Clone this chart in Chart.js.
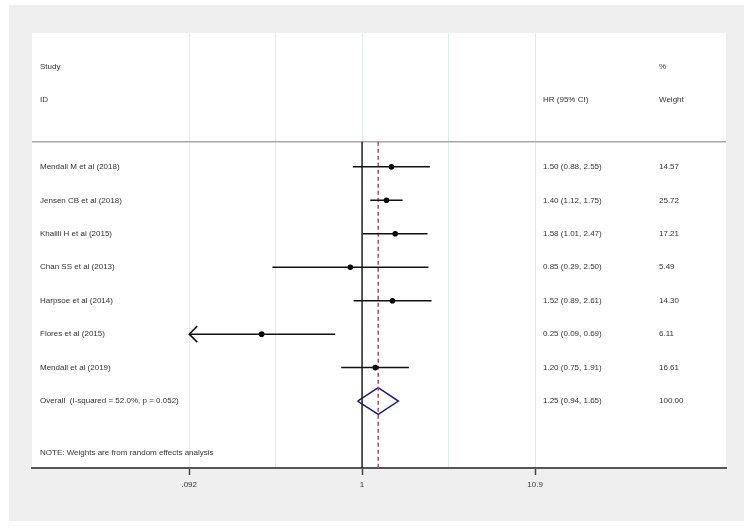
<!DOCTYPE html>
<html>
<head>
<meta charset="utf-8">
<script src="https://cdn.jsdelivr.net/npm/chart.js@4/dist/chart.umd.min.js"></script>
<style>
    body { margin: 0; background: #fff; }
    #wrap { width: 752px; height: 530px; }
</style>
</head>
<body>
<div id="wrap"><canvas id="forest" width="752" height="530"></canvas></div>
<script>
'use strict'

// study rows, top to bottom
const studies = ['Mendall M et al (2018)', 'Jensen CB et al (2018)', 'Khalili H et al (2015)',
    'Chan SS et al (2013)', 'Harpsoe et al (2014)', 'Flores et al (2015)', 'Mendall et al (2019)'];
const hr = [1.50, 1.40, 1.58, 0.85, 1.52, 0.25, 1.20];
const lower = [0.88, 1.12, 1.01, 0.29, 0.89, 0.09, 0.75];
const upper = [2.55, 1.75, 2.47, 2.50, 2.61, 0.69, 1.91];
const weights = [14.57, 25.72, 17.21, 5.49, 14.30, 6.11, 16.61];

const overallLabel = 'Overall  (I-squared = 52.0%, p = 0.052)';
const overallHR = 1.25;
const overallLower = 0.94;
const overallUpper = 1.65;
const overallWeight = 100.00;

const noteText = 'NOTE: Weights are from random effects analysis';

const tickValues = [0.092, 1, 10.9];
const tickLabels = ['.092', '1', '10.9'];

// layout in row units (row 1 = first study)
const headerRow = 0.25;
const overallRow = studies.length + 1;
const noteRow = 9.55;
const yTop = -3;
const yBottom = 10;
const diamondHalf = 0.4;

const textFont = '8px "Liberation Sans", Arial, sans-serif';
const textColor = '#333';

// grid lines at each tick and halfway between them (log scale)
let gridTicks = [];
tickValues.forEach((v, i) => {
    gridTicks.push(v);
    if (i < tickValues.length - 1) gridTicks.push(Math.sqrt(v * tickValues[i + 1]));
});

const fmt = v => v.toFixed(2);
const xMin = tickValues[0];
const xMax = tickValues[tickValues.length - 1];

let datasets = [];

// confidence intervals
studies.forEach((s, i) => {
    datasets.push({
        data: [{ x: Math.max(lower[i], xMin), y: i + 1 }, { x: Math.min(upper[i], xMax), y: i + 1 }],
        showLine: true,
        pointRadius: 0,
        borderColor: '#111',
        borderWidth: 1.5,
    });
});

// point estimates
datasets.push({
    data: hr.map((v, i) => ({ x: v, y: i + 1 })),
    pointStyle: 'circle',
    pointRadius: 2.8,
    backgroundColor: '#000',
    borderColor: '#000',
    borderWidth: 0,
});

// no-effect line
datasets.push({
    data: [{ x: 1, y: headerRow }, { x: 1, y: yBottom }],
    showLine: true,
    pointRadius: 0,
    borderColor: '#222',
    borderWidth: 1.5,
});

// overall effect line
datasets.push({
    data: [{ x: overallHR, y: headerRow }, { x: overallHR, y: yBottom }],
    showLine: true,
    pointRadius: 0,
    borderColor: '#a8505c',
    borderWidth: 1.5,
    borderDash: [4, 3],
});

// overall diamond
datasets.push({
    data: [
        { x: overallLower, y: overallRow },
        { x: overallHR, y: overallRow - diamondHalf },
        { x: overallUpper, y: overallRow },
        { x: overallHR, y: overallRow + diamondHalf },
        { x: overallLower, y: overallRow },
    ],
    showLine: true,
    pointRadius: 0,
    borderColor: '#1c1c80',
    borderWidth: 1.5,
    fill: false,
});

const backdrop = {
    id: 'backdrop',
    beforeDraw(chart) {
        const ctx = chart.ctx;
        const a = chart.chartArea;
        ctx.save();
        ctx.fillStyle = '#efefef';
        ctx.fillRect(9, 5, 735, 516);
        ctx.fillStyle = '#fff';
        ctx.fillRect(a.left, a.top, a.right - a.left, a.bottom - a.top);
        ctx.restore();
    },
    beforeDatasetsDraw(chart) {
        const ctx = chart.ctx;
        const a = chart.chartArea;
        const y = chart.scales.y.getPixelForValue(headerRow);
        ctx.save();
        ctx.strokeStyle = '#a8a8a8';
        ctx.lineWidth = 1.5;
        ctx.beginPath();
        ctx.moveTo(a.left, y);
        ctx.lineTo(a.right, y);
        ctx.stroke();
        ctx.restore();
    },
};

const labels = {
    id: 'labels',
    afterDatasetsDraw(chart) {
        const ctx = chart.ctx;
        const a = chart.chartArea;
        const xs = chart.scales.x;
        const ys = chart.scales.y;
        const colStudy = a.left + 8;
        const colHR = a.left + 511;
        const colWeight = a.left + 627;

        ctx.save();
        ctx.font = textFont;
        ctx.fillStyle = textColor;
        ctx.textBaseline = 'middle';
        ctx.textAlign = 'left';

        ctx.fillText('Study', colStudy, ys.getPixelForValue(-2));
        ctx.fillText('ID', colStudy, ys.getPixelForValue(-1));
        ctx.fillText('HR (95% CI)', colHR, ys.getPixelForValue(-1));
        ctx.fillText('%', colWeight, ys.getPixelForValue(-2));
        ctx.fillText('Weight', colWeight, ys.getPixelForValue(-1));

        studies.forEach((s, i) => {
            const y = ys.getPixelForValue(i + 1);
            ctx.fillText(s, colStudy, y);
            ctx.fillText(`${fmt(hr[i])} (${fmt(lower[i])}, ${fmt(upper[i])})`, colHR, y);
            ctx.fillText(fmt(weights[i]), colWeight, y);
        });

        const yo = ys.getPixelForValue(overallRow);
        ctx.fillText(overallLabel, colStudy, yo);
        ctx.fillText(`${fmt(overallHR)} (${fmt(overallLower)}, ${fmt(overallUpper)})`, colHR, yo);
        ctx.fillText(fmt(overallWeight), colWeight, yo);

        ctx.fillText(noteText, colStudy, ys.getPixelForValue(noteRow));

        // arrow heads where an interval runs off the axis
        ctx.strokeStyle = '#111';
        ctx.lineWidth = 1.5;
        studies.forEach((s, i) => {
            const y = ys.getPixelForValue(i + 1);
            if (lower[i] < xMin) {
                const x = xs.getPixelForValue(xMin);
                ctx.beginPath();
                ctx.moveTo(x + 8, y - 8);
                ctx.lineTo(x, y);
                ctx.lineTo(x + 8, y + 8);
                ctx.stroke();
            }
            if (upper[i] > xMax) {
                const x = xs.getPixelForValue(xMax);
                ctx.beginPath();
                ctx.moveTo(x - 8, y - 8);
                ctx.lineTo(x, y);
                ctx.lineTo(x - 8, y + 8);
                ctx.stroke();
            }
        });
        ctx.restore();
    },
};

new Chart(document.getElementById('forest'), {
    type: 'scatter',
    data: { datasets: datasets },
    plugins: [backdrop, labels],
    options: {
        responsive: false,
        animation: false,
        layout: { padding: { left: 32, right: 26, top: 33, bottom: 0 } },
        plugins: {
            legend: { display: false },
            tooltip: { enabled: false },
        },
        scales: {
            x: {
                type: 'logarithmic',
                min: 0.0105,
                max: 152,
                afterBuildTicks: scale => {
                    scale.ticks = gridTicks.map(v => ({ value: v }));
                },
                afterFit: scale => {
                    scale.height = 62;
                },
                ticks: {
                    autoSkip: false,
                    maxRotation: 0,
                    padding: 5,
                    color: textColor,
                    font: { family: '"Liberation Sans", Arial, sans-serif', size: 8 },
                    callback: value => {
                        const idx = tickValues.indexOf(value);
                        return idx >= 0 ? tickLabels[idx] : '';
                    },
                },
                grid: {
                    color: '#e2ecef',
                    lineWidth: 1,
                    tickLength: 7,
                    tickWidth: 1.5,
                    tickColor: c => (c.tick && tickValues.includes(c.tick.value)) ? '#444' : 'rgba(0,0,0,0)',
                },
                border: { display: true, color: '#555', width: 2 },
            },
            y: {
                type: 'linear',
                min: yTop,
                max: yBottom,
                reverse: true,
                display: false,
            },
        },
    },
});
</script>
</body>
</html>
